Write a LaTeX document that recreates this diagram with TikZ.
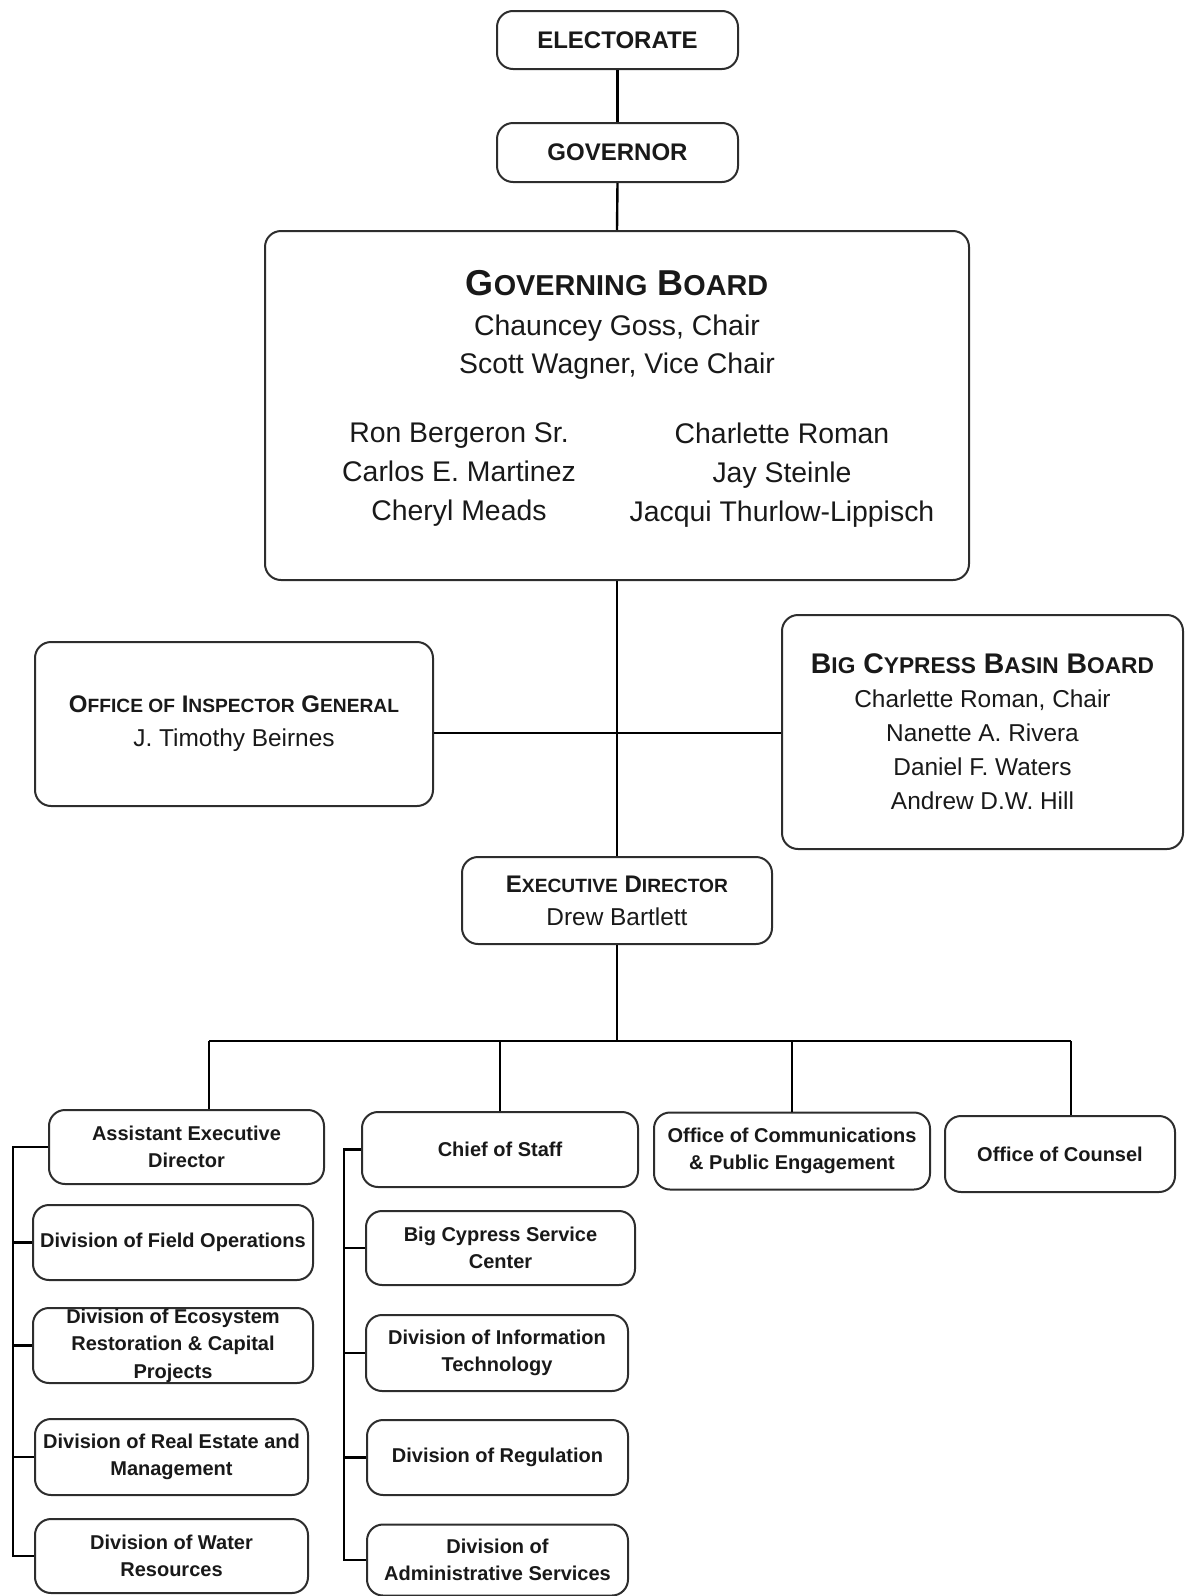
\documentclass[tikz,border=0pt]{standalone}
\usepackage{fontspec}
\usepackage{graphicx}
\setmainfont{Liberation Sans}
\definecolor{boxLine}{RGB}{45,45,45}
\definecolor{inkBlack}{RGB}{25,25,25}
\newcommand{\capsc}[2]{#1\scalebox{0.8}{#2}}

\tikzset{
  orgbox/.style={draw=boxLine, line width=1pt, rounded corners=8pt, fill=white, align=center, text=inkBlack, inner sep=2pt},
  unitbox/.style={orgbox, font=\fontsize{10}{13.7}\selectfont\bfseries},
  headbox/.style={orgbox, font=\fontsize{12}{14}\selectfont\bfseries},
  nametext/.style={align=center, text=inkBlack, inner sep=0pt},
  link/.style={draw=black, line width=1.2pt}
}

\begin{document}
\begin{tikzpicture}[x=0.5pt, y=-0.5pt]
  \useasboundingbox (0,0) rectangle (1187,1596);

  % top of the chart
  \draw (617.5,40) node[headbox, minimum width=120.5pt, minimum height=29pt] (elect) {ELECTORATE};
  \draw (617.5,152.5) node[headbox, minimum width=120.5pt, minimum height=29.5pt] (gov) {GOVERNOR};
  \draw (617,405.5) node[orgbox, minimum width=352pt, minimum height=174.5pt] (board) {};
  \node[nametext, font=\fontsize{18}{20}\selectfont\bfseries] (boardtitle) at (617,283) {\capsc{G}{OVERNING} \capsc{B}{OARD}};
  \node[nametext, font=\fontsize{14.2}{19.2}\selectfont] (boardchair) at (617,347) {Chauncey Goss, Chair\\Scott Wagner, Vice Chair};
  \node[nametext, font=\fontsize{14.2}{19.5}\selectfont] (boardleft) at (459,475) {Ron Bergeron Sr.\\Carlos E. Martinez\\Cheryl Meads};
  \node[nametext, font=\fontsize{14.2}{19.5}\selectfont] (boardright) at (782,475) {Charlette Roman\\Jay Steinle\\Jacqui Thurlow-Lippisch};

  % side boards
  \draw (234,724) node[orgbox, minimum width=199pt, minimum height=82pt, font=\fontsize{12.2}{17}\selectfont] (oig)
    {{\bfseries\fontsize{12}{17}\selectfont\capsc{O}{FFICE OF} \capsc{I}{NSPECTOR} \capsc{G}{ENERAL}}\\J. Timothy Beirnes};
  \draw (982.5,732) node[orgbox, minimum width=200.5pt, minimum height=117pt, font=\fontsize{12.2}{17}\selectfont] (bcbb)
    {{\bfseries\fontsize{14.2}{17}\selectfont\capsc{B}{IG} \capsc{C}{YPRESS} \capsc{B}{ASIN} \capsc{B}{OARD}}\\Charlette Roman, Chair\\Nanette A. Rivera\\Daniel F. Waters\\Andrew D.W. Hill};
  \draw (617,900.5) node[orgbox, minimum width=155pt, minimum height=43.5pt, font=\fontsize{12.2}{16.5}\selectfont] (exec)
    {{\bfseries\fontsize{12}{16.5}\selectfont\capsc{E}{XECUTIVE} \capsc{D}{IRECTOR}}\\Drew Bartlett};

  % units below the executive director
  \draw (186.5,1147) node[unitbox, minimum width=137.5pt, minimum height=37pt] (aed) {Assistant Executive\\Director};
  \draw (173,1242.5) node[unitbox, minimum width=140pt, minimum height=37.5pt] (field) {Division of Field Operations};
  \draw (173,1345.5) node[unitbox, minimum width=140pt, minimum height=37.5pt] (eco) {};
  \node[nametext, font=\fontsize{10}{13.7}\selectfont\bfseries] (ecotext) at (eco.center) {Division of Ecosystem\\Restoration \& Capital\\Projects};
  \draw (171.5,1457) node[unitbox, minimum width=136.5pt, minimum height=38pt] (realest) {Division of Real Estate and\\Management};
  \draw (171.5,1556) node[unitbox, minimum width=136.5pt, minimum height=37pt] (water) {Division of Water\\Resources};

  \draw (500,1149.5) node[unitbox, minimum width=138pt, minimum height=37.5pt] (cos) {Chief of Staff};
  \draw (500.5,1248) node[unitbox, minimum width=134.5pt, minimum height=37pt] (bcsc) {Big Cypress Service\\Center};
  \draw (497,1353) node[unitbox, minimum width=131pt, minimum height=38pt] (dit) {Division of Information\\Technology};
  \draw (497.5,1457.5) node[unitbox, minimum width=130.5pt, minimum height=37.5pt] (reg) {Division of Regulation};
  \draw (497.5,1560) node[unitbox, minimum width=130.5pt, minimum height=35.5pt] (admin) {Division of\\Administrative Services};

  \draw (792,1151) node[unitbox, minimum width=138pt, minimum height=38.5pt] (comms) {Office of Communications\\\& Public Engagement};
  \draw (1060,1154) node[unitbox, minimum width=115pt, minimum height=38pt] (counsel) {Office of Counsel};

  % connectors
  \coordinate (jn) at (618,733);
  \coordinate (busL) at (209,1041);
  \coordinate (busR) at (1071,1041);
  \coordinate (spineL) at (13,1147);
  \coordinate (spineM) at (344,1149);

  \path[link]
    (elect.south) edge (gov.north)
    (gov.south) edge (board.north)
    (board.south) edge (exec.north)
    (oig.east |- jn) edge (bcbb.west |- jn)
    (exec.south) edge (exec.south |- busL)
    (busL) edge (busR)
    (busL) edge (busL |- aed.north)
    (cos.north) edge (cos.north |- busL)
    (comms.north) edge (comms.north |- busL)
    (busR) edge (busR |- counsel.north)
    ;

  \draw[link] (aed.west) -- (aed.west -| spineL) -- (water.west -| spineL) -- (water.west);
  \foreach \n in {field,eco,realest}
    \draw[link] (\n.west) -- (\n.west -| spineL);
  \draw[link] (cos.west) -- (cos.west -| spineM) -- (admin.west -| spineM) -- (admin.west);
  \foreach \n in {bcsc,dit,reg}
    \draw[link] (\n.west) -- (\n.west -| spineM);
\end{tikzpicture}
\end{document}
